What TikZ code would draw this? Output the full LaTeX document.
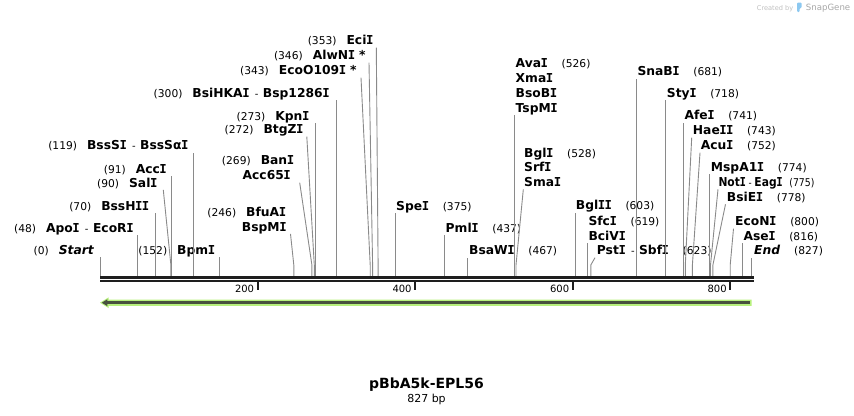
\documentclass[tikz,border=0pt]{standalone}
\usepackage{fontspec}
\setmainfont{DejaVu Sans}
\newfontfamily\serifIfont{DejaVu Sans Mono}
\usetikzlibrary{calc}
\definecolor{siteg}{RGB}{138,138,138}
\definecolor{barc}{RGB}{30,30,30}
\definecolor{featg}{RGB}{183,240,125}
\definecolor{featd}{RGB}{72,82,62}
\definecolor{sgblue}{RGB}{140,200,240}
\newcommand{\Ib}{{\kern-0.4pt\serifIfont\bfseries I\kern-0.4pt}}
\newcommand{\enz}[1]{{\fontsize{12.3}{14}\selectfont\bfseries #1}}
\newcommand{\snum}[1]{{\fontsize{10.7}{12}\selectfont #1}}
\newcommand{\gapL}{\hspace{10pt}}
\newcommand{\gapR}{\hspace{14pt}}
\newcommand{\enzhy}{\hspace{5.5pt}{\fontsize{10}{12}\selectfont -}\hspace{4.5pt}}
\newcommand{\enzhyt}{\hspace{3.5pt}{\fontsize{10}{12}\selectfont -}\hspace{3pt}}
\begin{document}
\begin{tikzpicture}[x=1pt,y=-1pt,
  lbl/.style={inner sep=0pt, text height=9pt, text depth=2.5pt},
  L/.style={lbl,anchor=east},
  R/.style={lbl,anchor=west},
  site/.style={draw=siteg,line width=0.9pt},
  tick/.style={draw=barc,line width=1.8pt},
  ticklbl/.style={inner sep=0pt,anchor=east,font=\fontsize{10}{12}\selectfont}]
\useasboundingbox (0,0) rectangle (854,415);

% site positions on the bar
\foreach \n/\x in {0/100,48/137.8,70/155.1,90/170.9,91/171.7,119/193.7,152/219.7,246/293.8,
  269/311.9,272/314.3,273/315.1,300/336.3,343/370.2,346/372.6,353/378.1,375/395.4,
  437/444.3,467/467.9,526/514.4,528/516.0,603/575.0,619/587.6,623/590.8,681/636.5,
  718/665.6,741/683.8,743/685.3,752/692.4,774/709.8,775/710.5,778/712.9,800/730.2,
  816/742.8,827/751.5}
  \coordinate (c\n) at (\x,276);

% left labels
\node[L] (lStart) at (94,251.5) {\snum{(0)}\gapL\enz{\itshape Start}};
\node[L] (lApo) at (133.5,229) {\snum{(48)}\gapL\enz{Apo\Ib}\enzhy\enz{EcoR\Ib}};
\node[L] (lBssH) at (149,207.3) {\snum{(70)}\gapL\enz{BssH\Ib\Ib}};
\node[L] (lSal) at (157.3,184) {\snum{(90)}\gapL\enz{Sal\Ib}};
\node[L] (lAcc) at (166.7,170) {\snum{(91)}\gapL\enz{Acc\Ib}};
\node[L] (lBssS) at (188.3,146.7) {\snum{(119)}\gapL\enz{BssS\Ib}\enzhy\enz{BssSα\Ib}};
\node[L] (lBpm) at (215,251.5) {\snum{(152)}\gapL\enz{Bpm\Ib}};
\node[L] (lBfu) at (286,213) {\snum{(246)}\gapL\enz{BfuA\Ib}};
\node[L] (lBspM) at (286.5,228) {\enz{BspM\Ib}};
\node[L] (lBan) at (294,161.7) {\snum{(269)}\gapL\enz{Ban\Ib}};
\node[L] (lAcc65) at (290.7,176.7) {\enz{Acc65\Ib}};
\node[L] (lBtg) at (303.3,130.7) {\snum{(272)}\gapL\enz{BtgZ\Ib}};
\node[L] (lKpn) at (309.3,117.3) {\snum{(273)}\gapL\enz{Kpn\Ib}};
\node[L] (lBsiHKA) at (329.5,94) {\snum{(300)}\gapL\enz{BsiHKA\Ib}\enzhy\enz{Bsp1286\Ib}};
\node[L] (lEcoO) at (356.7,71.7) {\snum{(343)}\gapL\enz{EcoO109\Ib\ *}};
\node[L] (lAlw) at (365.7,56.7) {\snum{(346)}\gapL\enz{AlwN\Ib\ *}};
\node[L] (lEci) at (373.3,41.7) {\snum{(353)}\gapL\enz{Eci\Ib}};

% right labels
\node[R] (rSpe) at (396,207.3) {\enz{Spe\Ib}\gapR\snum{(375)}};
\node[R] (rPml) at (445.5,229) {\enz{Pml\Ib}\gapR\snum{(437)}};
\node[R] (rBsaW) at (469,251.7) {\enz{BsaW\Ib}\gapR\snum{(467)}};
\node[R] (rAva) at (515.5,64) {\enz{Ava\Ib}\gapR\snum{(526)}};
\node[R] (rXma) at (515.5,79) {\enz{Xma\Ib}};
\node[R] (rBsoB) at (515.5,94) {\enz{BsoB\Ib}};
\node[R] (rTspM) at (515.5,109.3) {\enz{TspM\Ib}};
\node[R] (rBgl) at (524,154) {\enz{Bgl\Ib}\gapR\snum{(528)}};
\node[R] (rSrf) at (524,168.7) {\enz{Srf\Ib}};
\node[R] (rSma) at (524,183.5) {\enz{Sma\Ib}};
\node[R] (rBglII) at (575.7,206.7) {\enz{Bgl\Ib\Ib}\gapR\snum{(603)}};
\node[R] (rSfc) at (588.3,222.7) {\enz{Sfc\Ib}\gapR\snum{(619)}};
\node[R] (rBciV) at (588.3,237.3) {\enz{BciV\Ib}};
\node[R] (rPst) at (596.7,251.7) {\enz{Pst\Ib}\enzhy\enz{Sbf\Ib}\gapR\snum{(623)}};
\node[R] (rSnaB) at (637.3,72.7) {\enz{SnaB\Ib}\gapR\snum{(681)}};
\node[R] (rSty) at (666.7,94.3) {\enz{Sty\Ib}\gapR\snum{(718)}};
\node[R] (rAfe) at (684.3,116.7) {\enz{Afe\Ib}\gapR\snum{(741)}};
\node[R] (rHae) at (692.7,131.7) {\enz{Hae\Ib\Ib}\gapR\snum{(743)}};
\node[R] (rAcu) at (700.7,146.7) {\enz{Acu\Ib}\gapR\snum{(752)}};
\node[R] (rMsp) at (710.7,168.3) {\enz{MspA1\Ib}\gapR\snum{(774)}};
\node[R] (rNot) at (718.3,183.3) {\scalebox{0.87}[1]{\enz{Not\Ib}\enzhyt\enz{Eag\Ib}\hspace{8pt}\snum{(775)}}};
\node[R] (rBsiE) at (726.7,198.3) {\enz{BsiE\Ib}\gapR\snum{(778)}};
\node[R] (rEcoN) at (735,222.7) {\enz{EcoN\Ib}\gapR\snum{(800)}};
\node[R] (rAse) at (743.3,237.3) {\enz{Ase\Ib}\gapR\snum{(816)}};
\node[R] (rEnd) at (754,251.7) {\enz{\itshape End}\gapR\snum{(827)}};

% vertical site lines
\foreach \c/\l in {0/lStart,48/lApo,70/lBssH,91/lAcc,119/lBssS,152/lBpm,273/lKpn,300/lBsiHKA,
  375/rSpe,437/rPml,467/rBsaW,526/rTspM,603/rBglII,619/rBciV,681/rSnaB,718/rSty,741/rAfe,
  774/rMsp,816/rAse,827/rEnd}
  \draw[site] (c\c) -- (c\c |- \l.south);

% slanted site lines
\draw[site] (c90) -- ++(0,-11) -- ([xshift=6pt]lSal.south east);
\draw[site] (c246) -- ++(0,-11) -- ([xshift=4pt]lBspM.south east);
\draw[site] (c269) -- ++(0,-11) -- ([xshift=9pt]lAcc65.south east);
\draw[site] (c272) -- ++(0,-11) -- ([xshift=3.5pt]lBtg.south east);
\draw[site] (c343) -- ++(0,-11) -- ([xshift=4.3pt]lEcoO.south east);
\draw[site] (c346) -- ++(0,-11) -- ([xshift=3.3pt]lAlw.south east);
\draw[site] (c353) -- ++(0,-11) -- ([xshift=3pt]lEci.south east);
\draw[site] (c528) -- ++(0,-11) -- ([xshift=-0.7pt]rSma.south west);
\draw[site] (c623) -- ++(0,-11) -- ([xshift=-1.7pt]rPst.south west);
\draw[site] (c743) -- ++(0,-11) -- ([xshift=-1pt]rHae.south west);
\draw[site] (c752) -- ++(0,-11) -- ([xshift=-0.7pt]rAcu.south west);
\draw[site] (c775) -- ++(0,-11) -- ([xshift=-0.3pt]rNot.south west);
\draw[site] (c778) -- ++(0,-11) -- ([xshift=-1.2pt]rBsiE.south west);
\draw[site] (c800) -- ++(0,-11) -- ([xshift=-1.5pt]rEcoN.south west);

% sequence bar
\draw[barc,line width=3pt] (100,277.3) -- (754,277.3);
\draw[barc,line width=2pt] (100,281.3) -- (754,281.3);

% ticks
\foreach \v/\x in {200/257.6,400/415.1,600/572.7,800/730.2}{
  \draw[tick] (\x,282.3) -- (\x,290);
  \node[ticklbl] (t\v) at (\x-3.3,288.5) {\v};
}

% feature arrow
\fill[featg] (100,302.7) -- (108.5,297.4) -- (108.5,299.6) -- (751.5,299.6) -- (751.5,305.8)
  -- (108.5,305.8) -- (108.5,308) -- cycle;
\draw[featd,line width=2.6pt] (106,302.7) -- (749.5,302.7);
\fill[featd] (101.8,302.7) -- (107.3,299.3) -- (107.3,306.1) -- cycle;

% title
\node[anchor=base,inner sep=0pt] (title) at (426.5,388.3) {\fontsize{14}{16}\selectfont\bfseries pBbA5k-EPL56};
\node[anchor=base,inner sep=0pt] (len) at (426.5,402.7) {\fontsize{11}{13}\selectfont 827 bp};

% credit
\node[anchor=base west,inner sep=0pt,text=black!25] (cby) at (756.7,10.5) {\fontsize{6.6}{8}\selectfont Created by};
\fill[sgblue,rounded corners=1pt] (797,2.5) -- (801.5,2.5) -- (801.5,8) -- (799.5,8) -- (799.5,12) -- (797,12) -- cycle;
\node[anchor=base west,inner sep=0pt,text=black!35] (sg) at (805.7,10.5) {\fontsize{8.6}{10}\selectfont SnapGene};
\end{tikzpicture}
\end{document}
